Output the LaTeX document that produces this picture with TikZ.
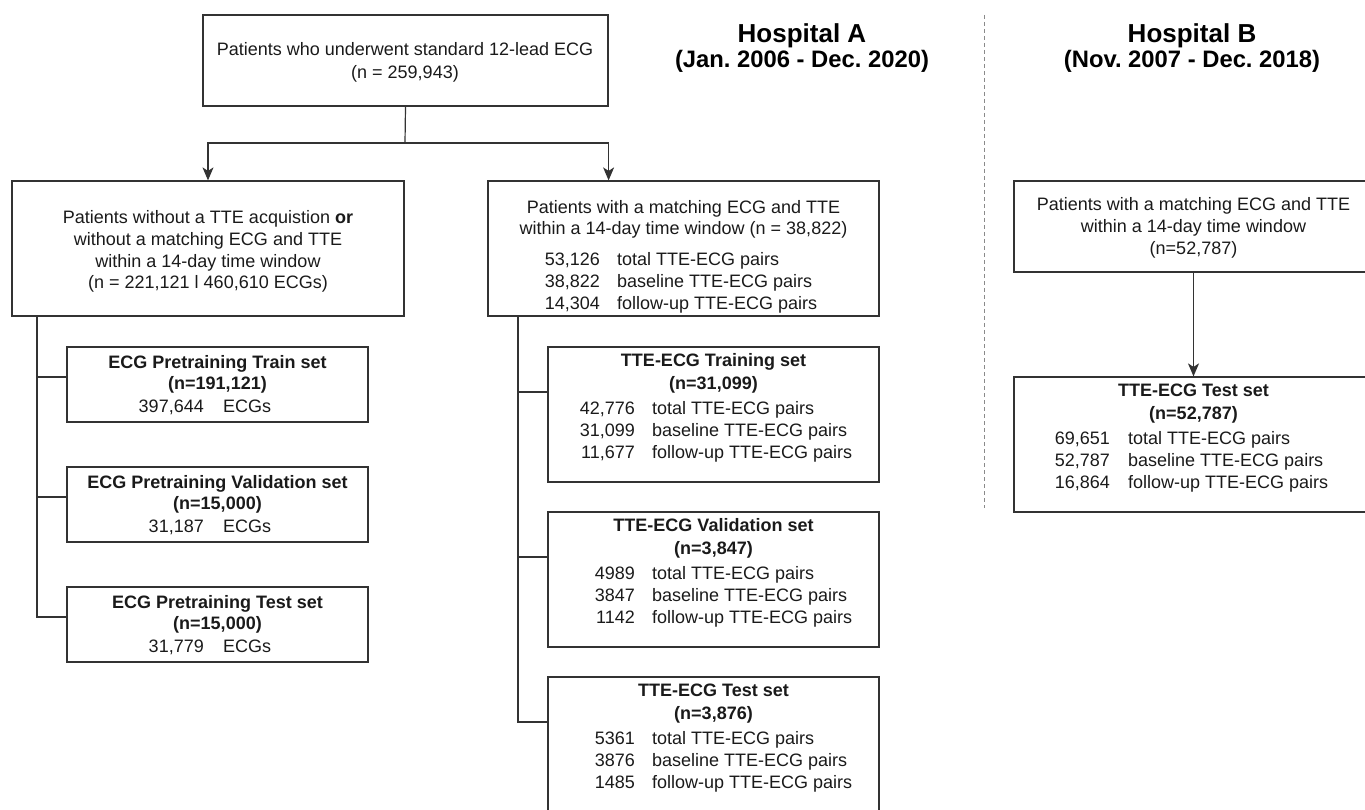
\documentclass[tikz,border=0pt]{standalone}
\usepackage{fontspec}
\setmainfont{Liberation Sans}
\usetikzlibrary{arrows.meta}
\frenchspacing
\definecolor{linec}{HTML}{333333}
\definecolor{txtc}{HTML}{1A1A1A}
\definecolor{dashc}{HTML}{8A8A8A}
\tikzset{
  boxn/.style={draw=linec, line width=1.2pt, inner sep=0pt, rectangle},
  conn/.style={draw=linec, line width=1.2pt},
  arr/.style={-{Stealth[length=13pt,width=11pt,inset=3.5pt]}},
  txt/.style={inner sep=0pt, text=txtc, font=\fontsize{18}{#1}\selectfont, align=center},
  btxt/.style={inner sep=0pt, text=txtc, font=\fontsize{18}{#1}\selectfont\bfseries, align=center},
  htxt/.style={inner sep=0pt, text=black, font=\fontsize{26}{25}\selectfont\bfseries, align=center, anchor=north},
  numc/.style={txt=22, align=right, anchor=north east},
  labc/.style={txt=22, align=left, anchor=north west},
}
\newcommand{\hsub}{\fontsize{23.8}{25}\selectfont}
\begin{document}
\begin{tikzpicture}[x=1pt,y=-1pt]
\useasboundingbox (0,0) rectangle (1365,810);
\clip (0,0) rectangle (1365,810);

% headers
\node[htxt] (hA) at (802,23) {\strut Hospital A\\\hsub (Jan. 2006 - Dec. 2020)};
\node[htxt] (hB) at (1192,23) {\strut Hospital B\\\hsub (Nov. 2007 - Dec. 2018)};
\draw[dashc, line width=1pt, dash pattern=on 4pt off 3pt] (984,15) -- (984,508);

% boxes
\node[boxn, minimum width=405pt, minimum height=91pt] (top) at (405.5,60.5) {};
\node[boxn, minimum width=392pt, minimum height=135pt] (left) at (208,248.5) {};
\node[boxn, minimum width=391pt, minimum height=135pt] (mid) at (683.5,248.5) {};
\node[boxn, minimum width=301pt, minimum height=75pt] (ptrain) at (217.5,384.5) {};
\node[boxn, minimum width=301pt, minimum height=75pt] (pval) at (217.5,504.5) {};
\node[boxn, minimum width=301pt, minimum height=75pt] (ptest) at (217.5,624.5) {};
\node[boxn, minimum width=331pt, minimum height=135pt] (ttrain) at (713.5,414.5) {};
\node[boxn, minimum width=331pt, minimum height=135pt] (tval) at (713.5,579.5) {};
\node[boxn, minimum width=331pt, minimum height=135pt] (ttest) at (713.5,744.5) {};
\node[boxn, minimum width=359pt, minimum height=91pt] (rb1) at (1193.5,226.5) {};
\node[boxn, minimum width=359pt, minimum height=135pt] (rb2) at (1193.5,444.5) {};

% connectors
\coordinate (split) at (405,143);
\draw[conn] (top.south) -- (split);
\draw[conn,arr] (split) -| (left.north);
\draw[conn,arr] (split) -| (top.south east |- mid.north);
\draw[conn,arr] (rb1.south) -- (rb2.north);

\coordinate (lbus) at (37,316);
\path ([yshift=7.5pt]ptrain.west) coordinate (ls1);
\path ([yshift=7.5pt]pval.west) coordinate (ls2);
\path ([yshift=7.5pt]ptest.west) coordinate (ls3);
\draw[conn] (lbus) |- (ls3);
\draw[conn] (ls1 -| lbus) -- (ls1);
\draw[conn] (ls2 -| lbus) -- (ls2);

\coordinate (mbus) at (518,316);
\path ([yshift=22.5pt]ttrain.west) coordinate (ms1);
\path ([yshift=22.5pt]tval.west) coordinate (ms2);
\path ([yshift=22.5pt]ttest.west) coordinate (ms3);
\draw[conn] (mbus) |- (ms3);
\draw[conn] (ms1 -| mbus) -- (ms1);
\draw[conn] (ms2 -| mbus) -- (ms2);

% texts
\node[txt=23, anchor=north] (toptxt) at (405,39.4) {\strut Patients who underwent standard 12-lead ECG\\(n = 259,943)};
\node[txt=21.7, anchor=north] (lefttxt) at (208,208.3) {\strut Patients without a TTE acquistion \textbf{or}\\without a matching ECG and TTE\\within a 14-day time window\\(n = 221,121 l 460,610 ECGs)};
\node[txt=21, anchor=north] (midtxt) at (683.5,198.8) {\strut Patients with a matching ECG and TTE\\within a 14-day time window (n = 38,822)};
\node[numc] (midnum) at (600,249.8) {\strut 53,126\\38,822\\14,304};
\node[labc] (midlab) at (617,249.8) {\strut total TTE-ECG pairs\\baseline TTE-ECG pairs\\follow-up TTE-ECG pairs};

\node[btxt=21, anchor=north] (ptraint) at (217.5,353.8) {\strut ECG Pretraining Train set\\(n=191,121)};
\node[txt=22, anchor=base east] (ptrainn) at (204,412.5) {397,644};
\node[txt=22, anchor=base west] (ptrainl) at (223,412.5) {ECGs};
\node[btxt=21, anchor=north] (pvalt) at (217.5,473.8) {\strut ECG Pretraining Validation set\\(n=15,000)};
\node[txt=22, anchor=base east] (pvaln) at (204,532.5) {31,187};
\node[txt=22, anchor=base west] (pvall) at (223,532.5) {ECGs};
\node[btxt=21, anchor=north] (ptestt) at (217.5,593.8) {\strut ECG Pretraining Test set\\(n=15,000)};
\node[txt=22, anchor=base east] (ptestn) at (204,652.5) {31,779};
\node[txt=22, anchor=base west] (ptestl) at (223,652.5) {ECGs};

\node[btxt=23, anchor=north] (ttraint) at (713.5,349.9) {\strut TTE-ECG Training set\\(n=31,099)};
\node[numc] (ttrainn) at (635,398.6) {\strut 42,776\\31,099\\11,677};
\node[labc] (ttrainl) at (652,398.6) {\strut total TTE-ECG pairs\\baseline TTE-ECG pairs\\follow-up TTE-ECG pairs};
\node[btxt=23, anchor=north] (tvalt) at (713.5,514.9) {\strut TTE-ECG Validation set\\(n=3,847)};
\node[numc] (tvaln) at (635,563.6) {\strut 4989\\3847\\1142};
\node[labc] (tvall) at (652,563.6) {\strut total TTE-ECG pairs\\baseline TTE-ECG pairs\\follow-up TTE-ECG pairs};
\node[btxt=23, anchor=north] (ttestt) at (713.5,679.9) {\strut TTE-ECG Test set\\(n=3,876)};
\node[numc] (ttestn) at (635,728.6) {\strut 5361\\3876\\1485};
\node[labc] (ttestl) at (652,728.6) {\strut total TTE-ECG pairs\\baseline TTE-ECG pairs\\follow-up TTE-ECG pairs};

\node[txt=22, anchor=north] (rb1t) at (1193.5,195.1) {\strut Patients with a matching ECG and TTE\\within a 14-day time window\\(n=52,787)};
\node[btxt=23, anchor=north] (rb2t) at (1193.5,379.9) {\strut TTE-ECG Test set\\(n=52,787)};
\node[numc] (rb2n) at (1110,428.6) {\strut 69,651\\52,787\\16,864};
\node[labc] (rb2l) at (1128,428.6) {\strut total TTE-ECG pairs\\baseline TTE-ECG pairs\\follow-up TTE-ECG pairs};
\end{tikzpicture}
\end{document}
